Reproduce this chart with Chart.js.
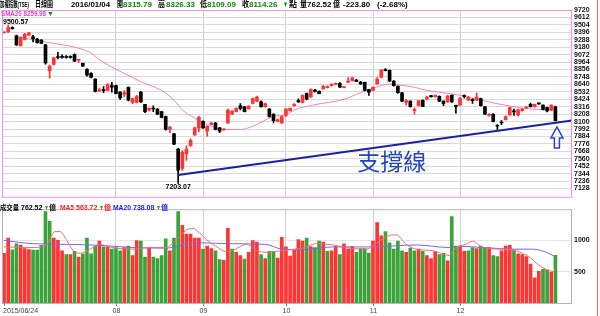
<!DOCTYPE html>
<html>
<head>
<meta charset="utf-8">
<script src="https://cdn.jsdelivr.net/npm/chart.js@4.4.1/dist/chart.umd.min.js"></script>
<style>
html, body { margin: 0; padding: 0; background: #fff; }
#wrap { position: relative; width: 600px; height: 316px; overflow: hidden; }
canvas { position: absolute; left: 0; }
#priceChart { top: 0; }
#volChart { top: 203px; }
#edge { position: absolute; left: 597px; top: 0; width: 1px; height: 316px; background: #e87070; }
</style>
</head>
<body>
<div id="wrap">
  <canvas id="priceChart" width="600" height="203"></canvas>
  <canvas id="volChart" width="600" height="113"></canvas>
  <div id="edge"></div>
</div>
<script>
// ── 日K (2015/06/24 → 2016/01/04) ──
const opens = [9390,9402,9463,9345,9203,9293,9354,9331,9298,9284,9213,8835,8929,9040,9038,9036,9035,9071,8990,8944,
  8859,8802,8717,8545,8556,8552,8623,8623,8528,8495,8599,8377,8377,8528,8349,8269,8292,8283,8245,8174,
  7985,7924,7702,7419,7631,7749,7905,8009,8103,7962,8056,8080,8009,7980,8080,8207,8245,8330,8316,8283,
  8363,8396,8387,8316,8283,8207,8103,8080,8188,8259,8330,8405,8377,8505,8457,8557,8538,8575,8594,8622,
  8641,8656,8594,8670,8693,8703,8675,8670,8566,8552,8646,8741,8854,8844,8689,8613,8519,8377,8396,8259,
  8330,8410,8424,8471,8462,8467,8396,8387,8481,8330,8339,8476,8410,8415,8410,8434,8316,8188,8207,8037,
  8085,8127,8198,8245,8198,8259,8300,8349,8316,8363,8339,8302,8270,8315.79];
const highs = [9400,9500.57,9475,9355,9330,9380,9395,9354,9310,9290,9220,8920,9030,9104,9070,9060,9055,9085,9005,8950,
  8870,8810,8720,8585,8608,8650,8670,8630,8535,8550,8605,8440,8480,8535,8350,8300,8330,8290,8250,8180,
  8030,7930,7710,7680,7749,7850,8020,8175,8110,8040,8090,8090,8015,7995,8280,8260,8300,8363,8320,8330,
  8440,8470,8400,8370,8290,8215,8140,8180,8290,8300,8360,8430,8490,8515,8575,8570,8545,8625,8620,8650,
  8660,8665,8610,8740,8745,8712,8685,8675,8570,8605,8740,8855,8870,8850,8695,8620,8525,8420,8400,8300,
  8410,8415,8465,8480,8490,8475,8400,8480,8490,8340,8450,8490,8465,8430,8519,8440,8320,8215,8215,8055,
  8113,8185,8310,8283,8280,8290,8316,8370,8355,8370,8345,8310,8345,8326.33];
const lows = [9385,9392,9440,9205,9195,9285,9350,9255,9240,9230,8935,8731,8920,9010,9020,9020,9020,8970,8960,8900,
  8760,8735,8530,8535,8519,8545,8528,8500,8420,8457,8400,8360,8370,8380,8230,8250,8245,8200,8155,7975,
  7938,7765,7203.07,7390,7537,7740,7900,7952,8000,7890,8050,7980,7938,7975,8075,8200,8240,8268,8240,8280,
  8358,8390,8310,8310,8165,8080,8095,8075,8170,8250,8320,8380,8370,8415,8450,8530,8500,8570,8590,8615,
  8635,8595,8590,8665,8688,8678,8640,8545,8481,8545,8640,8735,8835,8680,8615,8510,8390,8340,8310,8207,
  8325,8315,8415,8455,8455,8390,8330,8380,8380,8221,8330,8445,8405,8363,8405,8325,8200,8180,8095,7985,
  8056,8120,8190,8188,8180,8250,8295,8310,8310,8350,8270,8240,8260,8109.09];
const closes = [9395,9463,9450,9213,9321,9368,9387,9302,9246,9236,8953,8906,9024,9030,9033,9030,9032,8977,9000,8906,
  8774,8741,8538,8555,8550,8637,8600,8505,8443,8520,8410,8434,8462,8387,8245,8292,8283,8207,8160,7985,
  8018,7773,7395,7655,7702,7829,8009,8160,8009,8032,8080,7985,7962,7990,8268,8254,8292,8292,8245,8325,
  8434,8457,8316,8363,8174,8113,8127,8174,8283,8292,8349,8387,8481,8424,8566,8538,8505,8613,8608,8641,
  8651,8599,8604,8689,8736,8684,8646,8552,8528,8599,8717,8849,8840,8689,8623,8519,8396,8405,8316,8278,
  8405,8320,8457,8462,8481,8396,8363,8471,8387,8320,8443,8467,8457,8405,8457,8330,8207,8207,8103,8032,
  8080,8174,8302,8240,8269,8283,8306,8316,8349,8358,8278,8254,8338,8114.26];

// 成交量 (億)
const volumes = [795,1040,851,948,928,872,856,846,846,923,1463,1305,1040,1004,836,775,775,826,734,785,
  1040,785,912,989,897,897,861,887,836,887,912,760,999,989,734,887,734,709,760,1025,
  836,1040,1463,1244,1101,1101,1040,1040,861,912,872,836,693,683,1193,861,811,760,703,811,
  999,974,775,709,826,826,719,1050,897,749,846,1015,989,1040,902,887,989,974,826,836,
  902,775,948,861,902,811,872,872,800,989,1285,1076,1142,963,861,989,836,811,877,836,
  861,826,760,709,826,775,795,673,1382,912,897,826,836,887,872,912,887,887,760,744,
  836,912,923,846,785,775,744,622,403,505,540,530,489,762.52];

// SMA20 (讀圖取點)
const smaIdx = [3,4,10,18,21,23,27,31,33,38,41,43,46,48,50,53,57,60,62,65,68,70,74.5,82,86,89,93,95,99,101,110,115,123,127,132,133];
const smaVal = [9330,9321,9255,9165,9095,9000,8859,8741,8680,8552,8410,8269,8150,8080,8032,7985,7985,8032,8090,8174,8198,8269,8339,8424,8519,8585,8646,8632,8599,8566,8481,8410,8316,8283,8269,8259.98];

// 量 MA5 / MA20
const ma5Idx = [0,7,10.3,12.3,13.5,15,16.7,18.3,20.7,23,26,31,35,39,41.6,44,45.6,47.2,48.8,51,53.7,55,58.5,61,63,67,70,72,75.3,79.4,83.4,87.4,90.6,93,94.6,97,99.4,103.4,107.5,109,111.4,113,115.5,119.5,123.5,126.7,129,131,132.6,133];
const ma5Val = [897,887,938,1142,1142,1015,836,795,861,938,887,861,887,887,1015,1168,1193,1117,1015,912,821,836,938,836,811,836,861,877,948,928,877,861,989,1081,1091,938,861,836,760,887,938,989,887,861,836,734,607,530,505,563.72];
const ma20Idx = [0,7,15,23,31,39,44,47,55,63,67,71,79.4,87.4,93.8,99.4,107.5,109.9,115.5,123.5,127.5,130.8,133];
const ma20Val = [1000,948,938,923,887,877,938,963,948,938,861,851,897,897,912,928,887,907,887,861,861,811,738.08];

// 支撐線
const supportIdx = [42, 137];
const supportVal = [7325, 8117];

const priceTicks = [9720,9612,9504,9396,9288,9180,9072,8964,8856,8748,8640,8532,8424,8316,8208,8100,7992,7884,7776,7668,7560,7452,7344,7236,7128];
const volTicks = [500, 1000];
const monthIdx = [0, 27, 48, 68, 89, 110];
const monthLabels = ['2015/06/24', '08', '09', '10', '11', '12'];

const X_MIN = -0.25, X_MAX = 137;
const RED = '#ff3434', BLACK = '#000000', GREEN = '#3aa33a';
const NUM_FONT = 'bold 7px "Liberation Sans", "Noto Sans CJK TC"';
const AXIS_FONT = { family: 'Liberation Sans', size: 7, weight: 'bold' };

const candleColor = closes.map((c, i) => c >= opens[i] ? RED : BLACK);
const volColor = closes.map((c, i) => (i === 0 ? c >= opens[0] : c >= closes[i - 1]) ? RED : GREEN);

const pts = (xs, ys) => xs.map((x, k) => ({ x, y: ys[k] }));

function xScale(extra) {
    return Object.assign({
        type: 'linear', min: X_MIN, max: X_MAX, offset: false,
        afterBuildTicks: s => { s.ticks = monthIdx.slice(1).map(v => ({ value: v })); },
        ticks: { display: false },
        grid: { color: '#d2d2d2', drawTicks: false, offset: false },
        border: { display: false }
    }, extra);
}

// 逐段寫字，寬度壓到原圖的寬度
function drawRow(ctx, items, y) {
    items.forEach(([x, w, t, c]) => { ctx.fillStyle = c; ctx.fillText(t, x, y, w); });
}

// ── 上半：K線 ──
const priceDecor = {
    id: 'priceDecor',
    afterDraw(chart) {
        const { ctx, chartArea: a, scales: { x, y } } = chart;
        ctx.save();
        ctx.strokeStyle = '#f690ee';
        ctx.lineWidth = 1;
        ctx.strokeRect(a.left - 0.5, a.top + 0.5, a.right - a.left, a.bottom - a.top);

        // 標題列
        ctx.textBaseline = 'middle';
        ctx.font = 'bold 8px "Liberation Sans", "Noto Sans CJK TC"';
        const G = '#0a8a0a';
        drawRow(ctx, [
            [0, 29, '加權指數(TSE)', '#000'], [35, 18, '日線圖', '#000'], [71, 39, '2016/01/04', '#000'],
            [117, 6, '開', '#000'], [123, 30, '8315.79', G], [158, 7, '高', '#000'], [166, 31, '8326.33', G],
            [200, 7, '低', '#000'], [207, 31, '8109.09', G], [242, 7, '收', '#000'], [249, 31, '8114.26', G],
            [283, 5, '▼', G], [289, 8, '點', '#000'], [300, 7, '量', '#000'], [307, 25, '762.52', '#000'],
            [333, 7, '億', '#000'], [343, 30, '-223.80', '#000'], [377, 38, '(-2.68%)', '#000']
        ], 5);

        ctx.font = NUM_FONT;
        ctx.fillStyle = '#e03cc0';
        ctx.fillText('SMA20 8259.98', 1, 14, 45);
        ctx.fillStyle = G;
        ctx.fillText('▼', 47, 14);

        // 最高 / 最低
        ctx.fillStyle = '#000';
        ctx.fillText('9500.57', a.left, y.getPixelForValue(highs[1]) - 3);
        ctx.textAlign = 'center';
        ctx.fillText('7203.07', x.getPixelForValue(42), y.getPixelForValue(lows[42]) + 4);

        // 支撐線 文字
        ctx.textAlign = 'left';
        ctx.fillStyle = '#2244c4';
        ctx.font = '23px "Noto Sans CJK TC"';
        ctx.fillText('支撐線', x.getPixelForValue(85.2), y.getPixelForValue(7517));

        // 空心箭頭
        const tx = x.getPixelForValue(133) + 1.5;
        const ty = y.getPixelForValue(lows[133]) + 6;
        ctx.beginPath();
        ctx.moveTo(tx, ty);
        ctx.lineTo(tx + 6, ty + 11);
        ctx.lineTo(tx + 2.5, ty + 11);
        ctx.lineTo(tx + 2.5, ty + 21);
        ctx.lineTo(tx - 2.5, ty + 21);
        ctx.lineTo(tx - 2.5, ty + 11);
        ctx.lineTo(tx - 6, ty + 11);
        ctx.closePath();
        ctx.strokeStyle = '#2a40d8';
        ctx.lineWidth = 1.5;
        ctx.stroke();
        ctx.restore();
    }
};

const priceChart = new Chart(document.getElementById('priceChart'), {
    type: 'bar',
    data: {
        datasets: [
            {
                type: 'line', label: 'SMA20', data: pts(smaIdx, smaVal),
                borderColor: '#f080cc', borderWidth: 1, pointRadius: 0,
                cubicInterpolationMode: 'monotone', order: 3
            },
            {
                label: 'wick', data: lows.map((l, i) => ({ x: i, y: [l, highs[i]] })),
                backgroundColor: candleColor, barThickness: 1, grouped: false, order: 2
            },
            {
                label: 'body', data: opens.map((o, i) => ({ x: i, y: [Math.min(o, closes[i]), Math.max(o, closes[i])] })),
                backgroundColor: candleColor, barThickness: 3, minBarLength: 1, grouped: false, order: 1
            },
            {
                type: 'line', label: 'support', data: pts(supportIdx, supportVal),
                borderColor: '#1a1fa8', borderWidth: 2, pointRadius: 0, order: 0
            }
        ]
    },
    options: {
        responsive: false,
        animation: false,
        devicePixelRatio: 1,
        layout: { padding: { left: 3, top: 10, right: 0, bottom: 1 } },
        plugins: { legend: { display: false }, tooltip: { enabled: false } },
        scales: {
            x: xScale({ afterFit: s => { s.height = 0; } }),
            y: {
                position: 'right', min: 7008, max: 9720,
                afterBuildTicks: s => { s.ticks = priceTicks.map(v => ({ value: v })); },
                afterFit: s => { s.width = 28; },
                ticks: { font: AXIS_FONT, color: '#111', padding: 2, autoSkip: false, callback: v => String(v) },
                grid: { color: '#dadada', drawTicks: false },
                border: { display: false }
            }
        }
    },
    plugins: [priceDecor]
});

// ── 下半：成交量 ──
const volDecor = {
    id: 'volDecor',
    afterDraw(chart) {
        const { ctx, chartArea: a, scales: { x } } = chart;
        ctx.save();
        ctx.strokeStyle = '#b4b4b4';
        ctx.lineWidth = 1;
        ctx.strokeRect(a.left - 0.5, a.top + 0.5, a.right - a.left, a.bottom - a.top);

        ctx.textBaseline = 'middle';
        ctx.font = NUM_FONT;
        drawRow(ctx, [
            [0, 19, '成交量', '#000'], [21, 22, '762.52', '#000'], [44, 5, '▼', GREEN], [49, 7, '億', '#000'],
            [60, 14, 'MA5', '#ff2020'], [76, 22, '563.72', '#ff2020'], [99, 5, '▼', GREEN], [104, 7, '億', '#ff2020'],
            [113, 18, 'MA20', '#2020ff'], [133, 22, '738.08', '#2020ff'], [156, 5, '▼', GREEN], [161, 7, '億', '#2020ff']
        ], 5);

        // 月份
        ctx.font = '7px "Liberation Sans"';
        ctx.fillStyle = '#444';
        ctx.strokeStyle = '#888';
        monthIdx.forEach((m, k) => {
            const px = Math.round(x.getPixelForValue(m)) + 0.5;
            ctx.beginPath(); ctx.moveTo(px, a.bottom); ctx.lineTo(px, a.bottom + 3); ctx.stroke();
            ctx.textAlign = k === 0 ? 'left' : 'center';
            ctx.fillText(monthLabels[k], k === 0 ? a.left : px, a.bottom + 8);
        });
        ctx.restore();
    }
};

const volChart = new Chart(document.getElementById('volChart'), {
    type: 'bar',
    data: {
        datasets: [
            {
                type: 'line', label: 'MA5', data: pts(ma5Idx, ma5Val),
                borderColor: '#ff6a6a', borderWidth: 1, pointRadius: 0,
                cubicInterpolationMode: 'monotone', order: 0
            },
            {
                type: 'line', label: 'MA20', data: pts(ma20Idx, ma20Val),
                borderColor: '#6a6aff', borderWidth: 1, pointRadius: 0,
                cubicInterpolationMode: 'monotone', order: 1
            },
            {
                label: '成交量', data: volumes.map((v, i) => ({ x: i, y: v })),
                backgroundColor: volColor, barThickness: 3, order: 2
            }
        ]
    },
    options: {
        responsive: false,
        animation: false,
        devicePixelRatio: 1,
        layout: { padding: { left: 3, top: 1, right: 0, bottom: 0 } },
        plugins: { legend: { display: false }, tooltip: { enabled: false } },
        scales: {
            x: xScale({ afterFit: s => { s.height = 13; } }),
            y: {
                position: 'right', min: 0, max: 1500,
                afterBuildTicks: s => { s.ticks = volTicks.map(v => ({ value: v })); },
                afterFit: s => { s.width = 28; },
                ticks: { font: AXIS_FONT, color: '#111', padding: 2, callback: v => String(v) },
                grid: { color: '#e6e6e6', drawTicks: false },
                border: { display: false }
            }
        }
    },
    plugins: [volDecor]
});
</script>
</body>
</html>
